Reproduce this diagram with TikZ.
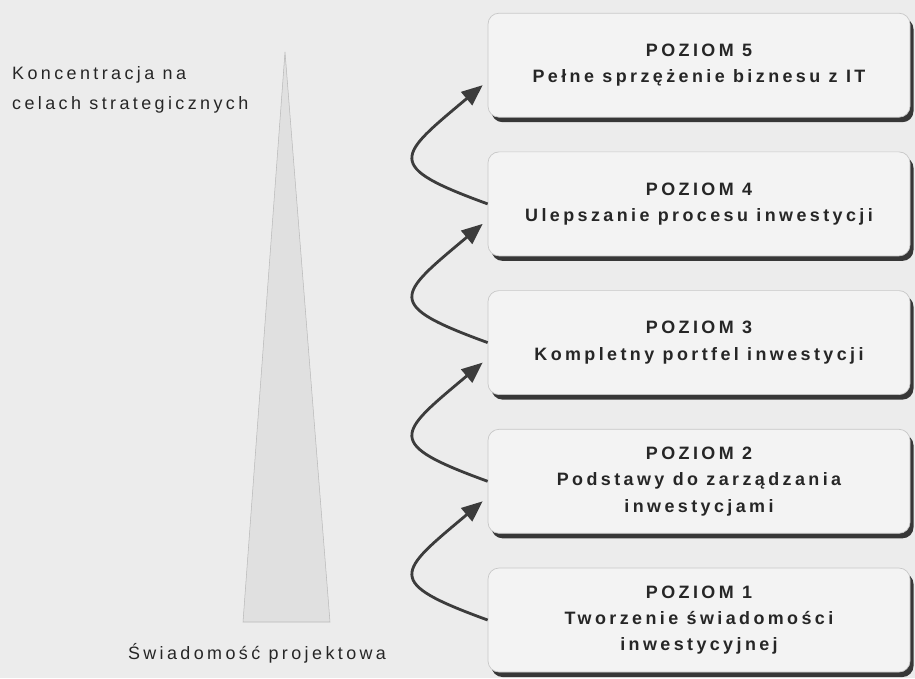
\documentclass[tikz,border=0pt]{standalone}
\usepackage{fontspec}
\setmainfont{Liberation Sans}
\newfontfamily\spacedfont[LetterSpace=19]{Liberation Sans}
\usetikzlibrary{arrows.meta, positioning, shadows}
\definecolor{bgcol}{RGB}{236,236,236}
\definecolor{boxfill}{RGB}{243,243,243}
\definecolor{boxedge}{RGB}{200,200,200}
\definecolor{inkcol}{RGB}{38,38,38}
\definecolor{shadowcol}{RGB}{55,55,55}
\definecolor{conefill}{RGB}{224,224,224}
\tikzset{
  level/.style={draw=boxedge, rounded corners=0.22cm, fill=boxfill, minimum width=8.44cm, minimum height=2.08cm, align=center, text=inkcol, font=\spacedfont\bfseries\fontsize{10.2}{15}\selectfont, drop shadow={shadow xshift=0.07cm, shadow yshift=-0.1cm, fill=shadowcol, opacity=1}},
  climb/.style={draw=inkcol!90, line width=1.6pt, -{Triangle[length=0.42cm,width=0.34cm]}, out=160, in=220, looseness=2.4},
  caption/.style={text=inkcol, font=\spacedfont\fontsize{10.2}{17}\selectfont}
}
\begin{document}
\begin{tikzpicture}
    \fill[bgcol] (0,0) rectangle (18.3,-13.56);
    \useasboundingbox (0,0) rectangle (18.3,-13.56);
    % stozek
    \filldraw[fill=conefill, draw=gray!55, line width=0.3pt] (5.70,-1.04) -- (6.60,-12.44) -- (4.86,-12.44) -- cycle;
    \node[caption, align=left, anchor=west] (top) at (0.12,-1.80) {Koncentracja na\\celach strategicznych};
    \node[caption] (bottom) at (5.14,-13.06) {Świadomość projektowa};

    % poziomy
    \node[level] (lvl1) at (13.98,-12.40) {POZIOM 1\\Tworzenie świadomości\\inwestycyjnej};
    \node[level, above=0.68cm of lvl1] (lvl2) {POZIOM 2\\Podstawy do zarządzania\\inwestycjami};
    \node[level, above=0.68cm of lvl2] (lvl3) {POZIOM 3\\Kompletny portfel inwestycji};
    \node[level, above=0.68cm of lvl3] (lvl4) {POZIOM 4\\Ulepszanie procesu inwestycji};
    \node[level, above=0.68cm of lvl4] (lvl5) {POZIOM 5\\Pełne sprzężenie biznesu z IT};

    \foreach \a/\b in {lvl1/lvl2, lvl2/lvl3, lvl3/lvl4, lvl4/lvl5}
        \draw[climb] (\a.west) to ([xshift=-0.1cm, yshift=-0.4cm]\b.west);
\end{tikzpicture}
\end{document}
